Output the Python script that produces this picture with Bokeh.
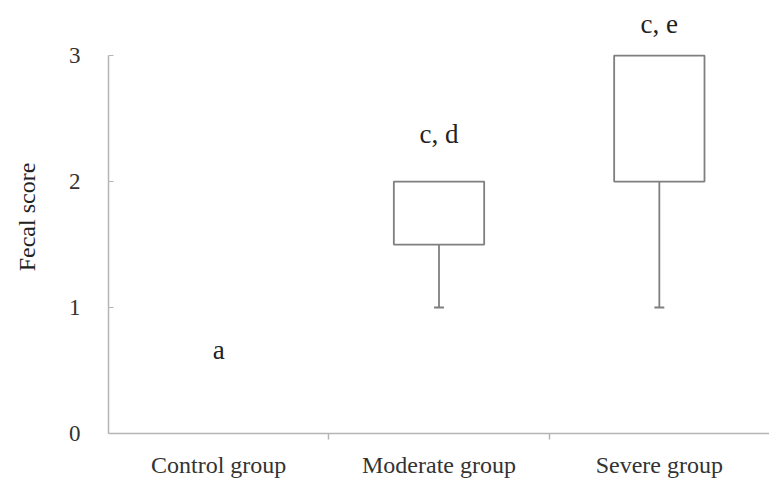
from bokeh.plotting import figure
from bokeh.models import FixedTicker, Range1d
from bokeh.core.properties import value
from bokeh.embed import file_html
from bokeh.resources import INLINE

# ---- data ----
groups = ["Control group", "Moderate group", "Severe group"]
box_low = [0.0, 1.5, 2.0]      # lower quartile
box_high = [0.0, 2.0, 3.0]     # upper quartile
whisk_low = [0.0, 1.0, 1.0]    # minimum
sig_labels = ["a", "c, d", "c, e"]
sig_y = [0.66, 2.38, 3.25]
y_ticks = [0, 1, 2, 3]

FONT = "Liberation Serif"
xs = [i + 0.5 for i in range(len(groups))]
has_box = [i for i in range(len(groups)) if box_high[i] > box_low[i]]

p = figure(width=769, height=480, output_backend="svg", toolbar_location=None,
           x_range=Range1d(0, 3.0), y_range=Range1d(0, 3.437),
           min_border_left=108, min_border_right=0, min_border_top=0,
           min_border_bottom=47)
p.outline_line_color = None
p.xgrid.visible = False
p.ygrid.visible = False
p.background_fill_color = "white"

bw = 0.41
cap = 0.045
bx = [xs[i] for i in has_box]
p.quad(left=[x - bw / 2 for x in bx], right=[x + bw / 2 for x in bx],
       bottom=[box_low[i] for i in has_box], top=[box_high[i] for i in has_box],
       fill_color="white", line_color="#7f7f7f", line_width=1.8)
p.segment(x0=bx, x1=bx, y0=[whisk_low[i] for i in has_box],
          y1=[box_low[i] for i in has_box], line_color="#7f7f7f", line_width=1.8)
p.segment(x0=[x - cap / 2 for x in bx], x1=[x + cap / 2 for x in bx],
          y0=[whisk_low[i] for i in has_box], y1=[whisk_low[i] for i in has_box],
          line_color="#7f7f7f", line_width=1.8)

p.text(x=xs, y=sig_y, text=sig_labels, text_align="center",
       text_baseline="alphabetic", text_font=value(FONT),
       text_font_size="27px", text_color="#222222")

# y axis
p.yaxis.ticker = FixedTicker(ticks=y_ticks)
p.yaxis.bounds = (0, 3)
p.yaxis.axis_line_color = "#b5b5b5"
p.yaxis.axis_line_width = 1.5
p.yaxis.major_tick_in = 5
p.yaxis.major_tick_out = 0
p.yaxis.major_tick_line_color = "#b5b5b5"
p.yaxis.minor_tick_line_color = None
p.yaxis.major_label_text_font = FONT
p.yaxis.major_label_text_font_size = "23px"
p.yaxis.major_label_text_color = "#333333"
p.yaxis.major_label_standoff = 28
p.yaxis.axis_label = "Fecal score"
p.yaxis.axis_label_text_font = FONT
p.yaxis.axis_label_text_font_size = "24px"
p.yaxis.axis_label_text_font_style = "normal"
p.yaxis.axis_label_text_color = "#222222"
p.yaxis.axis_label_standoff = 26

# x axis: labels at group centres, ticks at group boundaries
p.xaxis.ticker = FixedTicker(ticks=xs, minor_ticks=[float(i) for i in range(1, len(groups))])
p.xaxis.major_label_overrides = {x: g for x, g in zip(xs, groups)}
p.xaxis.axis_line_color = "#b5b5b5"
p.xaxis.axis_line_width = 1.5
p.xaxis.major_tick_line_color = None
p.xaxis.major_tick_in = 0
p.xaxis.major_tick_out = 0
p.xaxis.minor_tick_in = 0
p.xaxis.minor_tick_out = 6
p.xaxis.minor_tick_line_color = "#b5b5b5"
p.xaxis.minor_tick_line_width = 1.5
p.xaxis.major_label_text_font = FONT
p.xaxis.major_label_text_font_size = "24px"
p.xaxis.major_label_text_color = "#333333"
p.xaxis.major_label_standoff = 12

open("out.html", "w").write(file_html(p, INLINE))
